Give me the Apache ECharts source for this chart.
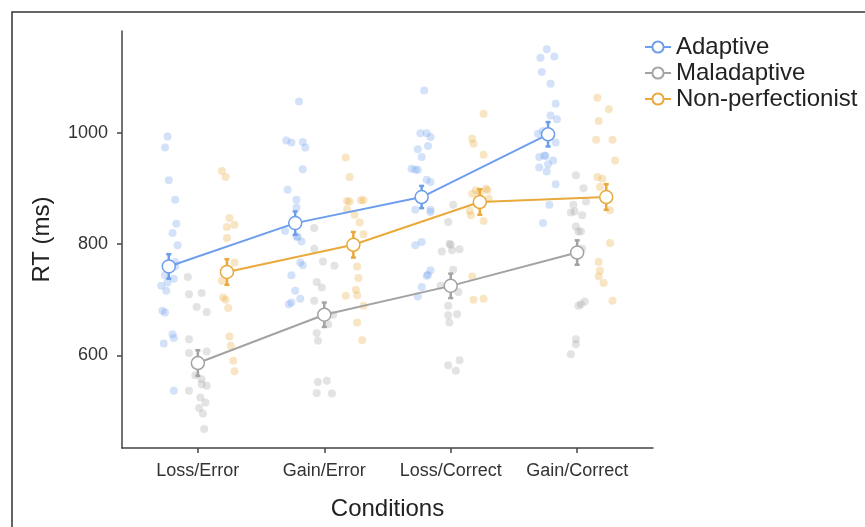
<!DOCTYPE html>
<html>
<head>
<meta charset="utf-8">
<script src="https://cdn.jsdelivr.net/npm/echarts@6/dist/echarts.min.js"></script>
<style>html,body{margin:0;padding:0;background:#fff}#c{width:865px;height:527px}</style>
</head>
<body>
<div id="c"></div>
<script>
// ---- data ----
const conditions = ['Loss/Error', 'Gain/Error', 'Loss/Correct', 'Gain/Correct'];
const groups = ['Adaptive', 'Maladaptive', 'Non-perfectionist'];
const yTicks = [600, 800, 1000];

// group means per condition (ms)
const adaptiveMean = [760, 838, 885, 998];
const maladaptiveMean = [586, 673, 725, 785];
const nonperfMean = [750, 799, 876, 885];
// standard errors
const adaptiveSE = [22, 21, 20, 22];
const maladaptiveSE = [23, 22, 22, 22];
const nonperfSE = [23, 23, 23, 23];

// individual participants: [jittered condition position, RT]
const adaptiveRaw = [
  [0.76,994],[0.74,974],[0.77,915],[0.82,880],[0.83,837],[0.80,820],[0.84,798],[0.82,768],[0.82,760],[0.74,744],[0.81,738],[0.76,731],[0.71,725],[0.75,716],[0.72,680],[0.74,677],[0.80,638],[0.81,631],[0.73,621],[0.81,536],
  [1.80,1057],[1.70,987],[1.74,983],[1.83,984],[1.85,974],[1.83,935],[1.71,898],[1.78,880],[1.78,866],[1.69,824],[1.79,813],[1.82,805],[1.78,814],[1.81,767],[1.83,762],[1.74,744],[1.77,716],[1.72,692],[1.74,695],[1.81,702],
  [2.79,1077],[2.76,1000],[2.81,1000],[2.84,993],[2.82,977],[2.74,971],[2.77,957],[2.69,936],[2.72,934],[2.74,934],[2.81,916],[2.84,912],[2.72,862],[2.84,862],[2.84,858],[2.72,798],[2.77,804],[2.84,753],[2.81,743],[2.82,745],[2.77,723],[2.74,706],
  [3.76,1151],[3.71,1136],[3.82,1138],[3.72,1110],[3.79,1089],[3.83,1053],[3.79,1032],[3.84,1025],[3.69,999],[3.73,1004],[3.83,983],[3.70,957],[3.74,960],[3.75,959],[3.81,951],[3.77,944],[3.70,938],[3.76,931],[3.83,908],[3.78,871],[3.73,838]
];
const maladaptiveRaw = [
  [0.92,741],[0.93,710],[1.03,712],[0.99,687],[1.07,678],[0.93,629],[0.93,604],[1.07,607],[0.98,564],[1.03,557],[1.03,548],[1.07,545],[0.93,536],[1.02,524],[1.06,515],[1.01,505],[1.04,495],[1.05,467],
  [1.92,829],[1.92,792],[1.99,769],[2.08,761],[1.94,732],[1.98,722],[1.92,698],[2.07,673],[2.03,656],[1.94,640],[1.95,626],[1.95,552],[2.02,554],[1.94,532],[2.06,531],
  [3.02,871],[2.98,840],[2.99,801],[3.00,799],[2.93,787],[3.01,789],[3.07,791],[3.02,754],[2.92,725],[3.06,714],[2.98,689],[2.98,672],[3.05,674],[2.99,659],[2.98,582],[3.07,591],[3.04,572],
  [3.99,924],[4.05,901],[4.07,877],[3.97,871],[3.95,857],[3.98,859],[4.04,852],[3.99,832],[4.01,823],[4.03,823],[4.04,792],[4.01,689],[4.03,692],[4.06,697],[3.99,629],[3.99,620],[3.95,602]
];
const nonperfRaw = [
  [1.19,932],[1.22,921],[1.25,847],[1.23,831],[1.29,835],[1.23,811],[1.29,767],[1.19,734],[1.20,704],[1.22,700],[1.24,685],[1.25,634],[1.26,617],[1.28,590],[1.29,571],
  [2.17,956],[2.20,921],[2.18,878],[2.20,877],[2.29,879],[2.31,879],[2.18,863],[2.24,853],[2.28,839],[2.31,818],[2.26,760],[2.27,739],[2.25,718],[2.26,708],[2.17,707],[2.31,689],[2.26,659],[2.30,627],
  [3.26,1035],[3.17,990],[3.18,981],[3.26,961],[3.17,891],[3.20,897],[3.23,894],[3.28,900],[3.29,897],[3.30,882],[3.15,860],[3.16,852],[3.26,842],[3.17,742],[3.18,700],[3.26,702],
  [4.16,1064],[4.25,1043],[4.17,1022],[4.15,988],[4.28,988],[4.30,951],[4.16,921],[4.20,918],[4.18,903],[4.26,861],[4.26,802],[4.17,768],[4.18,752],[4.17,742],[4.21,730],[4.28,698]
];

// ---- styling ----
const colors = ['#6d9eeb', '#a3a3a3', '#e9a93b'];
const dodge = [-0.23, 0, 0.23];
const FONT = '"Liberation Sans", Arial, sans-serif';

const means = [adaptiveMean, maladaptiveMean, nonperfMean];
const ses = [adaptiveSE, maladaptiveSE, nonperfSE];
const raws = [adaptiveRaw, maladaptiveRaw, nonperfRaw];

const series = [];
groups.forEach((g, gi) => {
  series.push({
    name: g + ' raw', type: 'scatter', data: raws[gi], symbolSize: 8, z: 1,
    itemStyle: { color: colors[gi], opacity: 0.3 }, silent: true
  });
});
groups.forEach((g, gi) => {
  series.push({
    name: g + ' err', type: 'custom', z: 3, silent: true,
    data: means[gi].map((m, i) => [i + 1 + dodge[gi], m, ses[gi][i]]),
    renderItem: (params, api) => {
      const x = api.value(0), m = api.value(1), s = api.value(2);
      const top = api.coord([x, m + s]), bot = api.coord([x, m - s]);
      const cw = 2.5;
      const st = { stroke: colors[gi], lineWidth: 2.5 };
      return { type: 'group', children: [
        { type: 'line', shape: { x1: top[0], y1: top[1], x2: bot[0], y2: bot[1] }, style: st },
        { type: 'line', shape: { x1: top[0] - cw, y1: top[1], x2: top[0] + cw, y2: top[1] }, style: st },
        { type: 'line', shape: { x1: bot[0] - cw, y1: bot[1], x2: bot[0] + cw, y2: bot[1] }, style: st }
      ]};
    }
  });
});
groups.forEach((g, gi) => {
  series.push({
    name: g, type: 'line', z: 4,
    data: means[gi].map((m, i) => [i + 1 + dodge[gi], m]),
    symbol: 'circle', symbolSize: 13,
    lineStyle: { color: colors[gi], width: 2 },
    itemStyle: { color: '#fff', borderColor: colors[gi], borderWidth: 1.5 },
    emphasis: { disabled: true }
  });
});

const chart = echarts.init(document.getElementById('c'), null, { renderer: 'canvas' });
chart.setOption({
  animation: false,
  backgroundColor: '#fff',
  textStyle: { fontFamily: FONT },
  grid: { left: 122, right: 212, top: 31, bottom: 79 },
  legend: {
    data: groups, orient: 'vertical', left: 639, top: 30,
    itemWidth: 26, itemHeight: 14, itemGap: 2,
    textStyle: { fontSize: 24, color: '#222', fontFamily: FONT }
  },
  xAxis: {
    type: 'value', min: 0.4, max: 4.6,
    name: 'Conditions', nameLocation: 'middle', nameGap: 49,
    nameTextStyle: { fontSize: 24, color: '#222', fontFamily: FONT },
    axisLine: { show: true, onZero: false, lineStyle: { color: '#444', width: 1.5 } },
    axisTick: { show: true, length: 5, customValues: [1, 2, 3, 4], lineStyle: { color: '#444', width: 1.5 } },
    axisLabel: { customValues: [1, 2, 3, 4], formatter: v => conditions[Math.round(v) - 1] || '',
      fontSize: 18, color: '#333', margin: 14, fontFamily: FONT },
    splitLine: { show: false }
  },
  yAxis: {
    type: 'value', min: 433, max: 1184,
    name: 'RT (ms)', nameLocation: 'middle', nameGap: 68,
    nameTextStyle: { fontSize: 24, color: '#222', fontFamily: FONT },
    axisLine: { show: true, lineStyle: { color: '#444', width: 1.5 } },
    axisTick: { show: true, length: 5, customValues: yTicks, lineStyle: { color: '#444', width: 1.5 } },
    axisLabel: { customValues: yTicks, formatter: v => String(v), fontSize: 18, color: '#333', margin: 14, fontFamily: FONT },
    splitLine: { show: false }
  },
  graphic: [{
    type: 'rect', shape: { x: 12, y: 12, width: 900, height: 600 },
    style: { fill: 'none', stroke: '#333', lineWidth: 1.5 }, silent: true, z: 100
  }],
  series: series
});
</script>
</body>
</html>
